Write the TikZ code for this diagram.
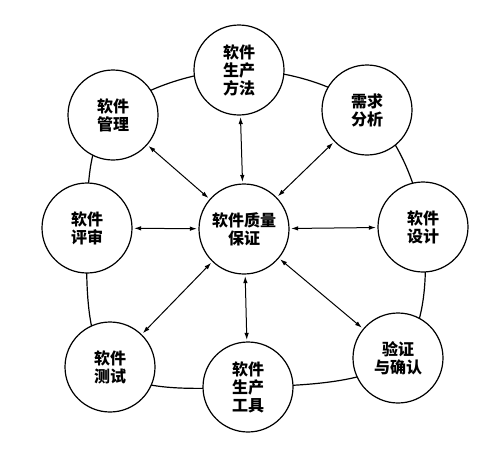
\documentclass[tikz,border=0pt]{standalone}
\usepackage{fontspec}
\newfontfamily\cjk{Noto Sans CJK SC}
\usetikzlibrary{arrows.meta}
\tikzset{
  circ/.style={circle, draw, fill=white, line width=1.2pt, minimum size=90pt, inner sep=0pt,
    align=center, font=\cjk\bfseries\fontsize{16pt}{18pt}\selectfont},
  link/.style={line width=1pt, {Latex[length=7pt,width=4.5pt]}-{Latex[length=7pt,width=4.5pt]}, shorten <=1.5pt, shorten >=1.5pt},
  ring/.style={line width=1.2pt}
}
\begin{document}
\begin{tikzpicture}[x=1pt,y=-1pt]
\useasboundingbox (0,0) rectangle (487,451);
\coordinate (pqa) at (244,229);
\coordinate (pfangfa) at (239,70);
\coordinate (pxuqiu) at (367,110);
\coordinate (pguanli) at (113,115);
\coordinate (ppingshen) at (87,228);
\coordinate (psheji) at (423,227);
\coordinate (pceshi) at (110,367);
\coordinate (pgongju) at (248,387);
\coordinate (pyanzheng) at (398,358);
\draw[ring] plot[smooth cycle, tension=0.6] coordinates {(pfangfa) (pxuqiu) (psheji) (pyanzheng) (pgongju) (pceshi) (ppingshen) (pguanli)};
\node[circ] (qa) at (pqa) {软件质量\\保证};
\node[circ] (fangfa) at (pfangfa) {软件\\生产\\方法};
\node[circ] (xuqiu) at (pxuqiu) {需求\\分析};
\node[circ] (guanli) at (pguanli) {软件\\管理};
\node[circ] (pingshen) at (ppingshen) {软件\\评审};
\node[circ] (sheji) at (psheji) {软件\\设计};
\node[circ] (ceshi) at (pceshi) {软件\\测试};
\node[circ] (gongju) at (pgongju) {软件\\生产\\工具};
\node[circ] (yanzheng) at (pyanzheng) {验证\\与确认};
\foreach \n in {fangfa,xuqiu,guanli,pingshen,sheji,ceshi,gongju,yanzheng}
  \draw[link] (qa) -- (\n);
\end{tikzpicture}
\end{document}
